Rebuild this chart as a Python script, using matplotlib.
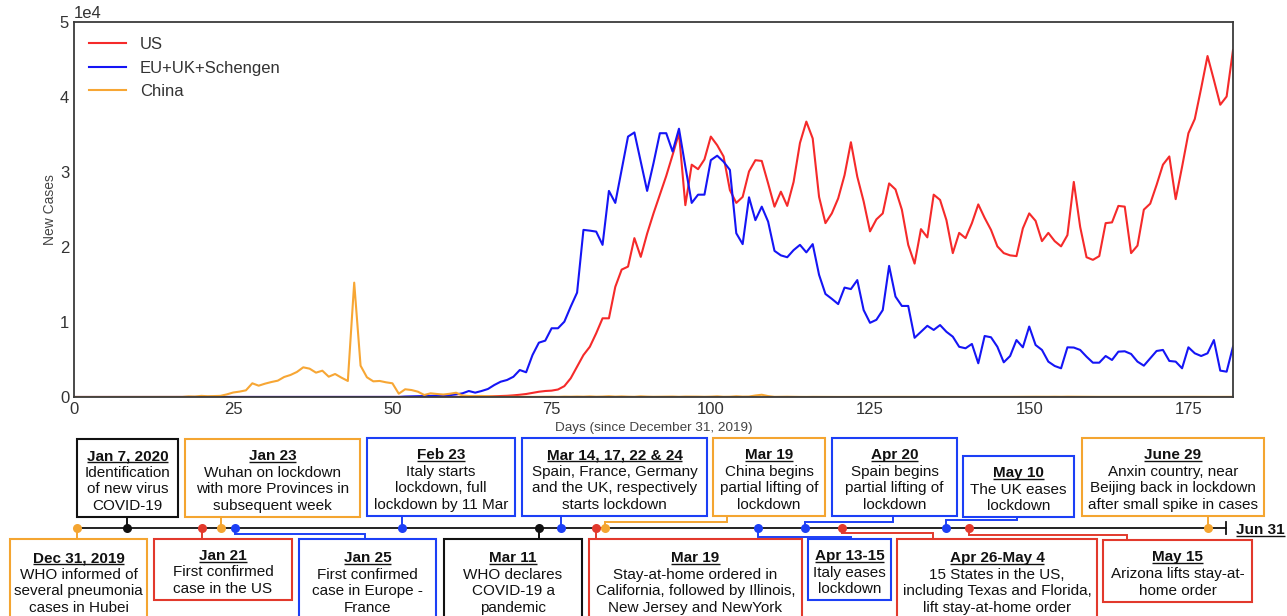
import numpy as np
import matplotlib
matplotlib.use("Agg")
import matplotlib.pyplot as plt
from matplotlib.patches import Rectangle

plt.rcParams['font.family'] = ['Liberation Sans', 'DejaVu Sans']

# ---------------------------------------------------------------- data
days = np.arange(183)  # days since December 31, 2019

us_cases = [
    0, 0, 0, 0, 0, 0, 0, 0, 0, 0,
    0, 0, 0, 0, 0, 0, 0, 0, 0, 0,
    0, 1, 0, 0, 1, 1, 0, 0, 0, 0,
    1, 0, 0, 1, 0, 0, 0, 0, 0, 0,
    0, 0, 0, 0, 0, 0, 0, 0, 0, 0,
    0, 0, 0, 0, 0, 0, 5, 3, 0, 5,
    20, 15, 25, 30, 40, 70, 90, 120, 160, 220,
    300, 400, 550, 700, 800, 850, 1000, 1450, 2500, 4050,
    5600, 6700, 8500, 10500, 10500, 14700, 17000, 17400, 21200, 18700,
    21800, 24500, 27000, 29500, 32300, 35200, 25600, 31000, 30400, 31700,
    34750, 33600, 32100, 27600, 25900, 26700, 30100, 31600, 31500, 28500,
    25400, 27400, 25500, 28700, 33900, 36750, 34500, 26700, 23200, 24500,
    26500, 29600, 34000, 29400, 26100, 22100, 23700, 24500, 28500, 27700,
    25000, 20300, 17800, 22400, 21300, 27000, 26300, 23600, 19200, 21900,
    21200, 23200, 25700, 23900, 22300, 20100, 19200, 18900, 18800, 22500,
    24500, 23500, 20800, 21900, 20800, 20100, 21600, 28700, 22700, 18650,
    18300, 18800, 23200, 23300, 25500, 25400, 19200, 20200, 25000, 25800,
    28300, 31000, 32100, 26400, 30700, 35200, 37100, 41200, 45500, 42300,
    39000, 40100, 46300,
]

eu_cases = [
    0, 0, 0, 0, 0, 0, 0, 0, 0, 0,
    0, 0, 0, 0, 0, 0, 0, 0, 0, 0,
    0, 0, 0, 0, 0, 3, 0, 0, 0, 1,
    0, 0, 1, 0, 0, 0, 0, 0, 0, 0,
    0, 0, 0, 0, 0, 0, 0, 0, 0, 0,
    3, 10, 60, 80, 100, 120, 150, 170, 200, 250,
    350, 490, 800, 580, 800, 1070, 1600, 2040, 2270, 2700,
    3600, 3300, 5600, 7250, 7520, 9170, 9170, 10050, 12060, 13930,
    22300, 22200, 22070, 20300, 27500, 25900, 30300, 34750, 35300, 31400,
    27500, 31200, 35200, 35200, 32750, 35800, 30750, 25900, 27000, 27000,
    31600, 32200, 31400, 30300, 21850, 20400, 26650, 23600, 25400, 23400,
    19500, 18900, 18650, 19600, 20300, 19300, 20400, 16300, 13750, 13100,
    12400, 14600, 14400, 15600, 11600, 9900, 10300, 11600, 17500, 13400,
    12150, 12150, 7900, 8700, 9500, 8950, 9600, 8700, 8050, 6700,
    6500, 7080, 4500, 8140, 7970, 6700, 4630, 5470, 7600, 6630,
    9400, 6940, 6280, 4720, 4140, 3830, 6630, 6600, 6280, 5380,
    4580, 4580, 5470, 4940, 6050, 6100, 5740, 4720, 4180, 5160,
    6140, 6280, 4810, 4720, 3830, 6630, 5830, 5470, 5830, 7600,
    3520, 3380, 6720,
]

china_cases = [
    0, 0, 0, 0, 0, 0, 0, 0, 0, 0,
    0, 0, 0, 0, 0, 0, 0, 10, 80, 60,
    150, 100, 120, 150, 350, 600, 720, 890, 1830, 1510,
    1780, 2000, 2180, 2670, 2940, 3340, 3960, 3780, 3250, 3510,
    2710, 3070, 2580, 2140, 15260, 4180, 2630, 2090, 2140, 1960,
    1830, 440, 1030, 930, 710, 270, 490, 400, 330, 430,
    570, 200, 130, 120, 140, 100, 45, 20, 25, 30,
    20, 25, 15, 20, 25, 40, 20, 50, 40, 60,
    45, 80, 40, 60, 100, 50, 80, 45, 30, 90,
    50, 30, 40, 50, 60, 30, 60, 60, 50, 30,
    50, 90, 30, 40, 100, 50, 60, 200, 300, 120,
    20, 30, 40, 25, 15, 10, 20, 15, 12, 10,
    8, 10, 12, 6, 10, 14, 8, 12, 10, 15,
    16, 14, 10, 12, 8, 6, 10, 12, 14, 10,
    8, 12, 16, 10, 14, 12, 20, 18, 25, 30,
    40, 35, 28, 30, 40, 30, 45, 38, 42, 30,
    25, 20, 18, 22, 25, 20, 15, 18, 22, 20,
    25, 20, 15, 18, 22, 20, 25, 18, 20, 15,
    22, 18, 20,
]

series_names = ["US", "EU+UK+Schengen", "China"]
x_ticks = [0, 25, 50, 75, 100, 125, 150, 175]
x_label = "Days (since December 31, 2019)"
y_label = "New Cases"

# Timeline events: header date and description lines
event_headers = [
    "Jan 7, 2020", "Jan 23", "Feb 23", "Mar 14, 17, 22 & 24",
    "Mar 19", "Apr 20", "May 10", "June 29",
    "Dec 31, 2019", "Jan 21", "Jan 25", "Mar 11",
    "Mar 19", "Apr 13-15", "Apr 26-May 4", "May 15",
]
event_lines = [
    ["Identification", "of new virus", "COVID-19"],
    ["Wuhan on lockdown", "with more Provinces in", "subsequent week"],
    ["Italy starts", "lockdown, full", "lockdown by 11 Mar"],
    ["Spain, France, Germany", "and the UK, respectively", "starts lockdown"],
    ["China begins", "partial lifting of", "lockdown"],
    ["Spain begins", "partial lifting of", "lockdown"],
    ["The UK eases", "lockdown"],
    ["Anxin country, near", "Beijing back in lockdown", "after small spike in cases"],
    ["WHO informed of", "several pneumonia", "cases in Hubei"],
    ["First confirmed", "case in the US"],
    ["First confirmed", "case in Europe -", "France"],
    ["WHO declares", "COVID-19 a", "pandemic"],
    ["Stay-at-home ordered in", "California, followed by Illinois,", "New Jersey and NewYork"],
    ["Italy eases", "lockdown"],
    ["15 States in the US,", "including Texas and Florida,", "lift stay-at-home order"],
    ["Arizona lifts stay-at-", "home order"],
]
event_region = ["world", "china", "eu", "eu", "china", "eu", "eu", "china",
                "china", "us", "eu", "world", "us", "eu", "us", "us"]
end_label = "Jun 31"

# ---------------------------------------------------------------- styles
W, H = 1287, 616
line_colors = {"US": "#f52a2a", "EU+UK+Schengen": "#1515f5", "China": "#f7a634"}
region_colors = {"world": "#111111", "china": "#f4a531",
                 "eu": "#1c3ff6", "us": "#e2392c"}

# Diagram layout in pixel units: box (x0, y0, x1, y1), marker x on the
# timeline, and optional elbow (x, y) for the leader line.
event_layout = [
    ((77, 439, 178, 517), 127, None),
    ((185, 439, 360, 517), 221, None),
    ((367, 438, 515, 516), 402, None),
    ((522, 438, 707, 516), 561, None),
    ((713, 438, 825, 516), 605, (727, 522.3)),
    ((832, 438, 957, 516), 805, (893, 521.5)),
    ((963, 456, 1074, 517), 946, (1017, 520.0)),
    ((1082, 438, 1264, 516), 1208, None),
    ((10, 539, 147, 621), 77, None),
    ((154, 539, 292, 600), 202, None),
    ((299, 539, 436, 621), 235, (365, 534.0)),
    ((444, 539, 582, 621), 539, None),
    ((589, 539, 802, 621), 596, None),
    ((808, 539, 891, 600), 758, (851, 536.7)),
    ((897, 539, 1097, 621), 842, (933, 532.5)),
    ((1103, 540, 1252, 602), 969, (1127, 535.0)),
]
timeline_y = 528
timeline_x0, timeline_x1 = 77, 1226

# ---------------------------------------------------------------- chart
fig = plt.figure(figsize=(W / 100, H / 100), dpi=100)
ax = fig.add_axes([74 / W, 1 - 397 / H, (1233 - 74) / W, (397 - 22.3) / H])

for name, vals in zip(series_names, [us_cases, eu_cases, china_cases]):
    ax.plot(days, vals, color=line_colors[name], lw=1.5, label=name)

ax.set_xlim(0, 182)
ax.set_ylim(0, 50000)
ax.set_xticks(x_ticks)
ax.ticklabel_format(axis='y', style='sci', scilimits=(4, 4))
ax.tick_params(length=0, labelsize=12, colors='#333333', pad=3.5)
ax.yaxis.get_offset_text().set_fontsize(12)
ax.yaxis.get_offset_text().set_color('#333333')
for sp in ax.spines.values():
    sp.set_color('#3a3a3a')
    sp.set_linewidth(1.3)
ax.set_xlabel(x_label, fontsize=9.7, color='#444444', labelpad=4)
ax.set_ylabel(y_label, fontsize=10, color='#444444', labelpad=2)
ax.legend(loc='upper left', frameon=False, fontsize=12, handlelength=2.2,
          handletextpad=0.85, labelcolor='#333333')

# ---------------------------------------------------------------- timeline
tl = fig.add_axes([0, 0, 1, 1])
tl.set_xlim(0, W)
tl.set_ylim(H, 0)
tl.set_axis_off()
tl.patch.set_visible(False)

renderer = fig.canvas.get_renderer()
font_size = 11
pitch = 16.6
base_off = 5.5


def underlined(x, y, s, color='#111111', ha='center'):
    t = tl.text(x, y, s, fontsize=font_size, fontweight='bold', color=color,
                ha=ha, va='baseline', zorder=6)
    bb = t.get_window_extent(renderer)
    inv = tl.transData.inverted()
    (xa, _), (xb, _) = inv.transform([(bb.x0, bb.y0), (bb.x1, bb.y0)])
    tl.plot([xa, xb], [y + 2.0, y + 2.0], color=color, lw=1.0,
            solid_capstyle='butt', zorder=6)


tl.plot([timeline_x0, timeline_x1], [timeline_y, timeline_y],
        color='#111111', lw=1.3, zorder=3)
tl.plot([timeline_x1, timeline_x1], [timeline_y - 6, timeline_y + 6],
        color='#111111', lw=1.3, zorder=3)
underlined(timeline_x1 + 10, timeline_y + base_off, end_label, ha='left')

for header, lines, region, (box, dot_x, elbow) in zip(
        event_headers, event_lines, event_region, event_layout):
    col = region_colors[region]
    x0, y0, x1, y1 = box
    top_row = y1 < timeline_y
    edge_y = y1 if top_row else y0
    if elbow is None:
        xs, ys = [dot_x, dot_x], [timeline_y, edge_y]
    else:
        ex, ey = elbow
        xs, ys = [dot_x, dot_x, ex, ex], [timeline_y, ey, ey, edge_y]
    tl.plot(xs, ys, color=col, lw=1.4, zorder=2, solid_joinstyle='miter')
    tl.plot([dot_x], [timeline_y], 'o', color=col, ms=6.5, zorder=4,
            markeredgewidth=0)
    tl.add_patch(Rectangle((x0, y0), x1 - x0, y1 - y0, facecolor='white',
                           edgecolor=col, lw=1.5, zorder=5, clip_on=False))
    n = 1 + len(lines)
    cx = (x0 + x1) / 2
    cy = (y0 + y1) / 2 + 1.5
    first = cy - (n - 1) / 2 * pitch
    underlined(cx, first + base_off, header)
    for i, s in enumerate(lines, start=1):
        tl.text(cx, first + i * pitch + base_off, s, fontsize=font_size,
                color='#111111', ha='center', va='baseline', zorder=6)

fig.savefig("out.png", dpi=100)
